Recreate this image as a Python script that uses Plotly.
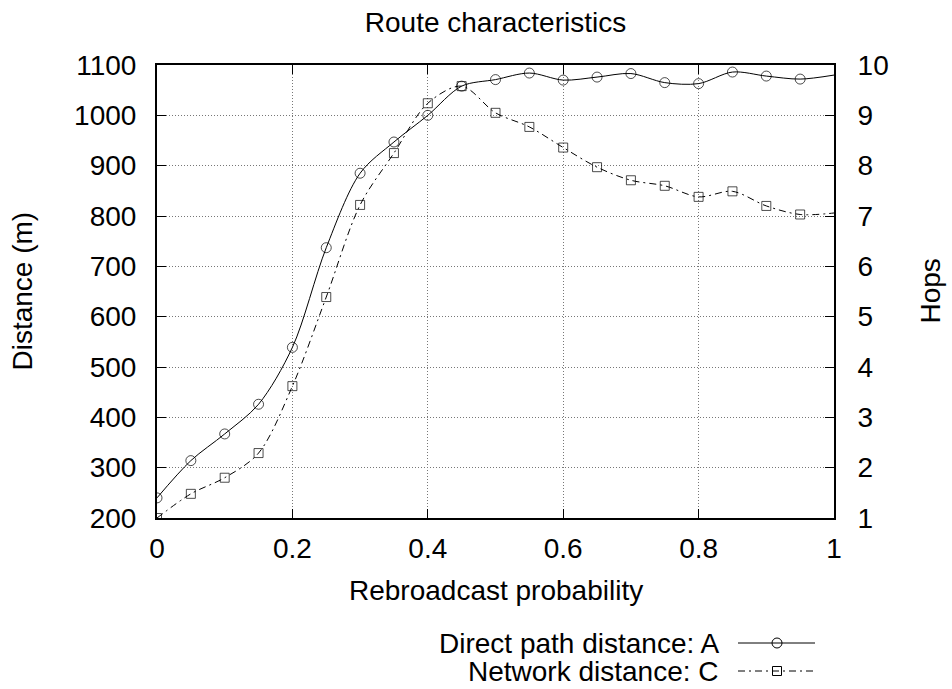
import plotly.graph_objects as go

# ---- data ----
prob = [0.0, 0.05, 0.10, 0.15, 0.20, 0.25, 0.30, 0.35, 0.40, 0.45, 0.50,
        0.55, 0.60, 0.65, 0.70, 0.75, 0.80, 0.85, 0.90, 0.95, 1.0]
direct_dist = [240, 314, 367, 426, 539, 737, 885, 947, 1000, 1058, 1071,
               1084, 1070, 1076, 1083, 1065, 1063, 1086, 1078, 1072, 1080]
network_hops = [1.00, 1.48, 1.80, 2.29, 3.62, 5.39, 7.22, 8.25, 9.24, 9.58, 9.05,
                8.77, 8.36, 7.97, 7.71, 7.60, 7.38, 7.49, 7.20, 7.03, 7.06]
name_a = "Direct path distance: A"
name_c = "Network distance: C"
x_ticks = [0, 0.2, 0.4, 0.6, 0.8, 1]
x_ticklabels = ["0", "0.2", "0.4", "0.6", "0.8", "1"]

FONT = "Liberation Sans, Arial, sans-serif"
FS = 28
DASHDOT = "7px,4px,2px,4px"
L, R, T, B = 157, 118, 65, 171
W, H = 952, 689
PW, PH = W - L - R, H - T - B


def px(x):
    return (x - L) / PW


def py(y):
    return (H - B - y) / PH


fig = go.Figure()
fig.add_trace(go.Scatter(
    x=prob, y=direct_dist, mode="lines+markers", name=name_a, showlegend=False,
    line=dict(color="black", width=1, shape="spline", smoothing=0.9),
    marker=dict(symbol="circle-open", size=[10] * (len(prob) - 1) + [0],
                color="black", line=dict(width=1)),
))
fig.add_trace(go.Scatter(
    x=prob, y=network_hops, mode="lines+markers", name=name_c, yaxis="y2",
    showlegend=False,
    line=dict(color="black", width=1, shape="spline", smoothing=0.9, dash=DASHDOT),
    marker=dict(symbol="square-open", size=[9] * (len(prob) - 1) + [0],
                color="black", line=dict(width=1)),
))

grid = dict(showgrid=True, gridcolor="#777", griddash="1px,2px", gridwidth=1)
fig.update_layout(
    width=W, height=H,
    margin=dict(l=L, r=R, t=T, b=B, autoexpand=False),
    paper_bgcolor="white", plot_bgcolor="white",
    font=dict(family=FONT, size=FS, color="black"),
    showlegend=False,
    title=dict(text="Route characteristics", x=0.5, xref="paper",
               y=1 - 22 / H, yref="container", yanchor="middle",
               font=dict(family=FONT, size=FS, color="black")),
    xaxis=dict(range=[0, 1], tickvals=x_ticks, ticktext=x_ticklabels,
               ticks="inside", ticklen=9, tickcolor="black",
               showline=True, linecolor="black", linewidth=2, mirror="ticks",
               zeroline=False, ticklabelstandoff=4, **grid),
    yaxis=dict(range=[200, 1100], dtick=100, tick0=200,
               ticks="inside", ticklen=9, tickcolor="black",
               showline=True, linecolor="black", linewidth=2, mirror=True,
               zeroline=False, ticklabelstandoff=13, **grid),
    yaxis2=dict(range=[1, 10], dtick=1, tick0=1, overlaying="y", side="right",
                ticks="inside", ticklen=9, tickcolor="black",
                showline=True, linecolor="black", linewidth=2,
                showgrid=False, zeroline=False, ticklabelstandoff=16),
)

annos = [
    dict(text="Rebroadcast probability", x=0.5, y=py(590)),
    dict(text="Distance (m)", x=px(22), y=0.5, textangle=-90),
    dict(text="Hops", x=px(930), y=0.5, textangle=-90),
    dict(text=name_a, x=px(721), y=py(643), xanchor="right"),
    dict(text=name_c, x=px(721), y=py(671), xanchor="right"),
]
for a in annos:
    base = dict(xref="paper", yref="paper", showarrow=False, yanchor="middle",
                xanchor="center", font=dict(family=FONT, size=FS, color="black"))
    base.update(a)
    fig.add_annotation(**base)

# legend samples (gnuplot style: text, then line sample with marker)
for yy, dash, kind, r in [(643, "solid", "circle", 5), (671, DASHDOT, "rect", 4.5)]:
    fig.add_shape(type="line", xref="paper", yref="paper",
                  x0=px(738), x1=px(815), y0=py(yy), y1=py(yy),
                  line=dict(color="black", width=1, dash=dash))
    fig.add_shape(type=kind, xref="paper", yref="paper",
                  x0=px(777 - r), x1=px(777 + r), y0=py(yy - r), y1=py(yy + r),
                  line=dict(color="black", width=1), fillcolor="rgba(0,0,0,0)")

fig.write_html("out.html",
               config={"displayModeBar": False},
               post_script="document.body.style.margin='0px';"
                           "document.body.style.overflow='hidden';")
